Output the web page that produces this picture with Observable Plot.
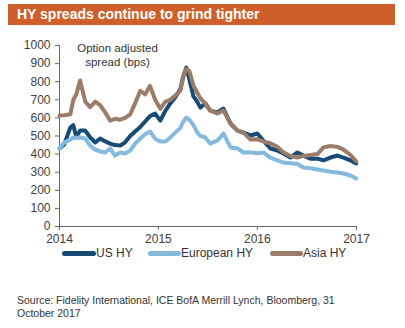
<!DOCTYPE html>
<html>
<head>
<meta charset="utf-8">
<script src="https://cdn.jsdelivr.net/npm/d3@7"></script>
<script src="https://cdn.jsdelivr.net/npm/@observablehq/plot@0.6"></script>
<style>
  html, body { margin: 0; padding: 0; background: #fff; }
  #wrap { position: relative; width: 405px; height: 328px; overflow: hidden; font-family: "Liberation Sans", Arial, sans-serif; }
  #title { position: absolute; left: 8px; top: 4px; width: 387px; height: 21px; background: #cf5f2a; color: #fff; font-weight: bold; font-size: 14px; line-height: 21px; box-sizing: border-box; padding-left: 9px; }
  #chart { position: absolute; left: 0; top: 30px; }
  .leg { position: absolute; top: 245px; font-size: 12px; color: #333; line-height: 16px; white-space: nowrap; }
  .sw { position: absolute; height: 5px; border-radius: 3px; }
  #source { position: absolute; left: 17px; top: 294px; font-size: 10.5px; line-height: 13px; color: #333; }
</style>
</head>
<body>
<div id="wrap">
  <div id="title"></div>
  <div id="chart"></div>
  <div id="legend"></div>
  <div id="source"></div>
</div>
<script>
const titleText = "HY spreads continue to grind tighter";
const sourceText = "Source: Fidelity International, ICE BofA Merrill Lynch, Bloomberg, 31<br>October 2017";
const annotationText = "Option adjusted\nspread (bps)";

const seriesNames = ["US HY", "European HY", "Asia HY"];
const seriesColors = ["#174a74", "#84bade", "#9b7c68"];

const yTicks = [0, 100, 200, 300, 400, 500, 600, 700, 800, 900, 1000];
const xTickLabels = ["2014", "2015", "2016", "2017"];

const dates = ["2014-01-01","2014-01-19","2014-02-10","2014-02-21","2014-03-04","2014-03-18","2014-04-06","2014-04-24","2014-05-13","2014-05-31",
"2014-06-19","2014-07-07","2014-07-25","2014-08-13","2014-08-31","2014-09-19","2014-10-07","2014-10-26","2014-11-13","2014-12-01",
"2014-12-20","2015-01-08","2015-01-27","2015-02-14","2015-03-05","2015-03-23","2015-04-03","2015-04-14","2015-04-25","2015-05-10",
"2015-05-24","2015-06-05","2015-06-23","2015-07-11","2015-08-07","2015-08-29","2015-09-24","2015-10-20","2015-11-11","2015-12-07",
"2016-01-01","2016-01-23","2016-02-18","2016-03-15","2016-04-06","2016-05-02","2016-05-28","2016-06-19","2016-07-15","2016-08-10",
"2016-09-01","2016-09-27","2016-10-23","2016-11-14","2016-12-10","2016-12-31"];

const usHY = [431,455,547,560,495,530,530,492,464,486,
470,458,450,447,465,500,525,550,580,610,
624,585,640,680,715,760,830,878,815,720,
690,657,680,640,630,652,569,530,519,503,
514,475,431,420,403,381,409,392,375,375,
365,381,392,381,365,348];

const europeanHY = [431,465,480,492,490,492,486,447,425,415,
409,431,392,409,403,420,458,486,510,525,
485,470,470,492,520,545,580,602,590,560,
520,500,492,458,475,514,437,431,409,410,
405,409,381,365,354,350,345,326,322,315,
309,302,298,293,282,265];

const asiaHY = [613,615,620,700,730,807,690,660,690,670,
630,585,595,590,600,620,680,750,730,777,
700,650,690,700,725,750,830,870,860,779,
740,707,680,641,624,641,569,530,519,480,
482,470,460,440,410,390,381,390,395,400,
437,445,440,425,395,360];

const seriesValues = [usHY, europeanHY, asiaHY];

const parse = d3.utcParse("%Y-%m-%d");
const rows = [];
seriesNames.forEach((name, i) => {
  seriesValues[i].forEach((v, j) => rows.push({date: parse(dates[j]), value: v, series: name}));
});
const xTicks = xTickLabels.map(y => parse(y + "-01-01"));

document.getElementById("title").textContent = titleText;
document.getElementById("source").innerHTML = sourceText;

const chart = Plot.plot({
  width: 405,
  height: 220,
  marginTop: 15,
  marginBottom: 24,
  marginLeft: 59,
  marginRight: 49,
  style: { fontFamily: "'Liberation Sans', Arial, sans-serif", fontSize: "12px", color: "#404040", background: "transparent", overflow: "visible" },
  x: { type: "utc", domain: [xTicks[0], xTicks[xTicks.length - 1]] },
  y: { domain: [0, 1000] },
  color: { domain: seriesNames, range: seriesColors },
  marks: [
    Plot.axisY({ ticks: yTicks, tickFormat: d => String(d), tickSize: 4, tickPadding: 5, label: null, stroke: "#666" }),
    Plot.axisX({ ticks: xTicks, tickFormat: d3.utcFormat("%Y"), tickSize: 4, tickPadding: 4, label: null, stroke: "#666" }),
    Plot.ruleX([xTicks[0]], { stroke: "#666" }),
    Plot.ruleY([0], { stroke: "#666" }),
    Plot.line(rows, { x: "date", y: "value", z: "series", stroke: "series", strokeWidth: 4, strokeLinejoin: "round", strokeLinecap: "round" }),
    Plot.text([annotationText], { frameAnchor: "top-left", dx: 58, dy: 9, text: d => d, textAnchor: "middle", lineAnchor: "middle", fontSize: 11.5, fill: "#333", lineHeight: 1.2 })
  ]
});
document.getElementById("chart").appendChild(chart);

const legendPos = [[62, 96], [148, 181], [270, 303]];
const legend = document.getElementById("legend");
seriesNames.forEach((name, i) => {
  const sw = document.createElement("div");
  sw.className = "sw";
  sw.style.left = legendPos[i][0] + "px";
  sw.style.width = (legendPos[i][1] - legendPos[i][0]) + "px";
  sw.style.background = seriesColors[i];
  sw.style.top = "251px";
  legend.appendChild(sw);
  const t = document.createElement("div");
  t.className = "leg";
  t.style.left = legendPos[i][1] + "px";
  t.textContent = name;
  legend.appendChild(t);
});
</script>
</body>
</html>
